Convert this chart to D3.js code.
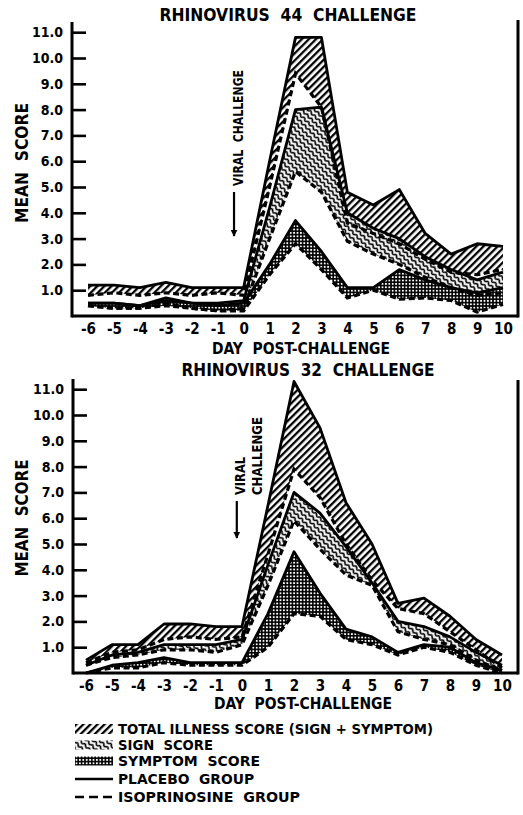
<!DOCTYPE html>
<html><head><meta charset="utf-8">
<script src="https://cdn.jsdelivr.net/npm/d3@7"></script>
<style>
body{margin:0;background:#fff}
text{font-family:"DejaVu Sans Condensed","Liberation Sans Narrow","DejaVu Sans",sans-serif;font-weight:bold;fill:#000;white-space:pre}
</style>
</head><body>
<svg id="c" width="523" height="815"></svg>
<script>
// ---------- DATA ----------
const days = [-6,-5,-4,-3,-2,-1,0,1,2,3,4,5,6,7,8,9,10];
const yTicks = [1,2,3,4,5,6,7,8,9,10,11];
const xTickLabels = ["-6","-5","-4","-3","-2","-1","0","1","2","3","4","5","6","7","8","9","10"];

// Rhinovirus 44
const r44TotalPlacebo = [1.2,1.2,1.1,1.3,1.1,1.1,1.1, 6.0,10.8,10.8,4.8,4.3,4.9,3.2,2.4,2.8,2.7];
const r44TotalIso     = [0.8,0.9,0.8,0.9,0.8,0.9,0.8, 5.0,9.4,8.1,3.6,3.2,2.8,2.2,1.7,1.6,1.8];
const r44SignPlacebo  = [0.5,0.5,0.4,0.7,0.5,0.5,0.6, 4.2,8.0,8.1,4.0,3.4,3.0,2.3,1.8,1.4,1.7];
const r44SignIso      = [0.4,0.3,0.3,0.5,0.3,0.2,0.3, 3.0,5.6,4.8,2.9,2.4,2.0,1.5,1.1,0.8,0.9];
const r44SymPlacebo   = [0.5,0.5,0.4,0.6,0.5,0.4,0.5, 2.0,3.7,2.5,1.1,1.1,1.8,1.4,1.1,0.9,1.1];
const r44SymIso       = [0.4,0.3,0.3,0.4,0.3,0.2,0.2, 1.6,2.8,1.8,0.7,1.0,0.65,0.7,0.6,0.15,0.45];

// Rhinovirus 32
const r32TotalPlacebo = [0.5,1.1,1.1,1.9,1.9,1.8,1.8, 6.5,11.3,9.5,6.6,5.0,2.7,2.9,2.2,1.3,0.7];
const r32TotalIso     = [0.4,0.8,0.9,1.3,1.4,1.3,1.4, 4.6,7.9,6.8,5.0,3.6,2.5,2.3,1.6,0.9,0.2];
const r32SignPlacebo  = [0.3,0.7,0.8,1.1,1.1,1.1,1.3, 4.2,7.0,6.2,4.9,3.5,2.0,1.8,1.4,0.8,0.3];
const r32SignIso      = [0.3,0.6,0.7,0.9,0.9,0.8,1.1, 3.4,5.9,4.8,3.8,3.4,1.6,1.3,1.1,0.5,0.1];
const r32SymPlacebo   = [0.0,0.3,0.4,0.6,0.4,0.4,0.4, 2.3,4.7,3.1,1.7,1.4,0.8,1.1,1.0,0.4,0.1];
const r32SymIso       = [0.0,0.2,0.2,0.4,0.3,0.3,0.3, 1.0,2.3,2.2,1.3,1.1,0.7,1.0,0.8,0.3,0.0];

const legendLabels = ["TOTAL ILLNESS SCORE (SIGN + SYMPTOM)","SIGN  SCORE","SYMPTOM  SCORE","PLACEBO  GROUP","ISOPRINOSINE  GROUP"];

// ---------- DRAW ----------
const svg = d3.select('#c');
const defs = svg.append('defs');

const pT = defs.append('pattern').attr('id','hatchTotal').attr('patternUnits','userSpaceOnUse')
  .attr('width',5).attr('height',5).attr('patternTransform','rotate(45)');
pT.append('rect').attr('width',5).attr('height',5).attr('fill','#fff');
pT.append('rect').attr('x',0).attr('y',0).attr('width',2.3).attr('height',5).attr('fill','#000');

const pS = defs.append('pattern').attr('id','hatchSign').attr('patternUnits','userSpaceOnUse')
  .attr('width',6).attr('height',4.6).attr('patternTransform','rotate(45)');
pS.append('rect').attr('width',6).attr('height',4.6).attr('fill','#fff');
pS.append('path').attr('d','M-3,2.3 Q-1.5,0.3 0,2.3 T3,2.3 T6,2.3 T9,2.3').attr('fill','none').attr('stroke','#000').attr('stroke-width',1.7);

const pY = defs.append('pattern').attr('id','hatchSym').attr('patternUnits','userSpaceOnUse')
  .attr('width',3.4).attr('height',3.4);
pY.append('rect').attr('width',3.4).attr('height',3.4).attr('fill','#000');
pY.append('rect').attr('x',0.8).attr('y',0.8).attr('width',1.8).attr('height',1.8).attr('fill','#fff');

const arrow = defs.append('marker').attr('id','arr').attr('viewBox','0 0 10 10').attr('refX',9).attr('refY',5)
  .attr('markerWidth',3.2).attr('markerHeight',4).attr('orient','auto').attr('markerUnits','strokeWidth');
arrow.append('path').attr('d','M0,0 L10,5 L0,10 Z').attr('fill','#000');

function panel(cfg){
  const x = d3.scaleLinear().domain([-6,10]).range(cfg.xr);
  const y = d3.scaleLinear().domain([0,11]).range(cfg.yr);
  const g = svg.append('g');

  cfg.bands.forEach(b=>{
    const rows = days.map((d,i)=>({d, p:b.placebo[i], s:b.iso[i]}));
    g.append('path').datum(rows)
      .attr('d', d3.area().x(r=>x(r.d)).y0(r=>y(r.s)).y1(r=>y(r.p)))
      .attr('fill', `url(#${b.pat})`);
  });
  cfg.bands.forEach(b=>{
    const rows = days.map((d,i)=>({d, p:b.placebo[i], s:b.iso[i]}));
    g.append('path').datum(rows)
      .attr('d', d3.line().x(r=>x(r.d)).y(r=>y(r.p)))
      .attr('fill','none').attr('stroke','#000').attr('stroke-width',2.8).attr('stroke-linejoin','round');
    g.append('path').datum(rows)
      .attr('d', d3.line().x(r=>x(r.d)).y(r=>y(r.s)))
      .attr('fill','none').attr('stroke','#000').attr('stroke-width',3.2).attr('stroke-dasharray','6,3.5');
  });

  // frame
  const y0 = y(0);
  g.append('line').attr('x1',cfg.axisX).attr('x2',cfg.axisX).attr('y1',cfg.topY).attr('y2',y0+1.5).attr('stroke','#000').attr('stroke-width',3);
  g.append('line').attr('x1',cfg.axisX).attr('x2',518).attr('y1',y0).attr('y2',y0).attr('stroke','#000').attr('stroke-width',3);
  g.append('line').attr('x1',518).attr('x2',518).attr('y1',cfg.rightTopY).attr('y2',y0+1.5).attr('stroke','#000').attr('stroke-width',3);

  // y axis
  const ya = g.append('g').attr('transform',`translate(${cfg.axisX},0)`)
    .call(d3.axisLeft(y).tickValues(yTicks).tickFormat(d=>d.toFixed(1)).tickSize(-14).tickPadding(9));
  ya.select('.domain').remove();
  ya.selectAll('.tick line').attr('stroke','#000').attr('stroke-width',2.6);
  ya.selectAll('.tick text').attr('font-size',14).attr('font-family',null);

  // x axis
  const xa = g.append('g').attr('transform',`translate(0,${y0})`)
    .call(d3.axisBottom(x).tickValues(days).tickFormat((d,i)=>xTickLabels[i]).tickSize(0).tickPadding(7));
  xa.select('.domain').remove();
  xa.selectAll('.tick text').attr('font-size',15).attr('font-family',null);

  // titles
  g.append('text').attr('x',cfg.titleX).attr('y',cfg.titleY).attr('text-anchor','middle').attr('font-size',17)
    .attr('textLength',cfg.titleW).attr('lengthAdjust','spacingAndGlyphs').text(cfg.title);
  g.append('text').attr('x',cfg.xlabX).attr('y',cfg.xlabY).attr('text-anchor','middle').attr('font-size',15)
    .attr('textLength',178).attr('lengthAdjust','spacingAndGlyphs').text('DAY  POST-CHALLENGE');
  g.append('text').attr('transform',`translate(28,${cfg.ylabY}) rotate(-90)`).attr('text-anchor','middle').attr('font-size',17)
    .attr('textLength',cfg.ylabW).attr('lengthAdjust','spacingAndGlyphs').text('MEAN  SCORE');

  // viral challenge
  const ax = x(cfg.arrowDay);
  g.append('line').attr('x1',ax).attr('x2',ax).attr('y1',cfg.arrowY1).attr('y2',cfg.arrowY2)
    .attr('stroke','#000').attr('stroke-width',2.2).attr('marker-end','url(#arr)');
  cfg.viral(g, ax);
}

panel({
  xr:[88,503], yr:[316,316-11*25.8], axisX:72, topY:22, rightTopY:20,
  bands:[{placebo:r44TotalPlacebo, iso:r44TotalIso, pat:'hatchTotal'},
         {placebo:r44SignPlacebo, iso:r44SignIso, pat:'hatchSign'},
         {placebo:r44SymPlacebo, iso:r44SymIso, pat:'hatchSym'}],
  title:'RHINOVIRUS  44  CHALLENGE', titleX:288, titleY:21, titleW:257,
  xlabX:301, xlabY:354, ylabY:163, ylabW:120,
  arrowDay:-0.37, arrowY1:192, arrowY2:236,
  viral:(g,ax)=>{
    g.append('text').attr('transform',`translate(${ax+9},186) rotate(-90)`).attr('text-anchor','start').attr('font-size',14)
      .attr('textLength',116).attr('lengthAdjust','spacingAndGlyphs').text('VIRAL  CHALLENGE');
  }
});

panel({
  xr:[86,502], yr:[673,673-11*25.8], axisX:73, topY:379, rightTopY:380,
  bands:[{placebo:r32TotalPlacebo, iso:r32TotalIso, pat:'hatchTotal'},
         {placebo:r32SignPlacebo, iso:r32SignIso, pat:'hatchSign'},
         {placebo:r32SymPlacebo, iso:r32SymIso, pat:'hatchSym'}],
  title:'RHINOVIRUS  32  CHALLENGE', titleX:308, titleY:376, titleW:253,
  xlabX:303, xlabY:709, ylabY:518, ylabW:117,
  arrowDay:-0.2, arrowY1:501, arrowY2:538,
  viral:(g,ax)=>{
    g.append('text').attr('transform',`translate(${ax+8},495) rotate(-90)`).attr('text-anchor','start').attr('font-size',14)
      .attr('textLength',38).attr('lengthAdjust','spacingAndGlyphs').text('VIRAL');
    g.append('text').attr('transform',`translate(${ax+25},495) rotate(-90)`).attr('text-anchor','start').attr('font-size',14)
      .attr('textLength',78).attr('lengthAdjust','spacingAndGlyphs').text('CHALLENGE');
  }
});

// legend
const lg = svg.append('g');
const legRows = [
  {y:729, kind:'rect', pat:'hatchTotal', h:10, w:315},
  {y:745, kind:'rect', pat:'hatchSign', h:9, w:95},
  {y:761, kind:'rect', pat:'hatchSym', h:9, w:142},
  {y:779, kind:'solid', w:136},
  {y:797, kind:'dash', w:182}
];
legRows.forEach((r,i)=>{
  if(r.kind==='rect'){
    lg.append('rect').attr('x',75).attr('y',r.y-r.h/2).attr('width',38).attr('height',r.h).attr('fill',`url(#${r.pat})`);
  } else {
    lg.append('line').attr('x1',75).attr('x2',113).attr('y1',r.y).attr('y2',r.y).attr('stroke','#000')
      .attr('stroke-width',2.6).attr('stroke-dasharray', r.kind==='dash' ? '9,5' : null);
  }
  lg.append('text').attr('x',118).attr('y',r.y+5).attr('font-size',14)
    .attr('textLength',r.w).attr('lengthAdjust','spacingAndGlyphs').text(legendLabels[i]);
});
</script>
</body></html>
